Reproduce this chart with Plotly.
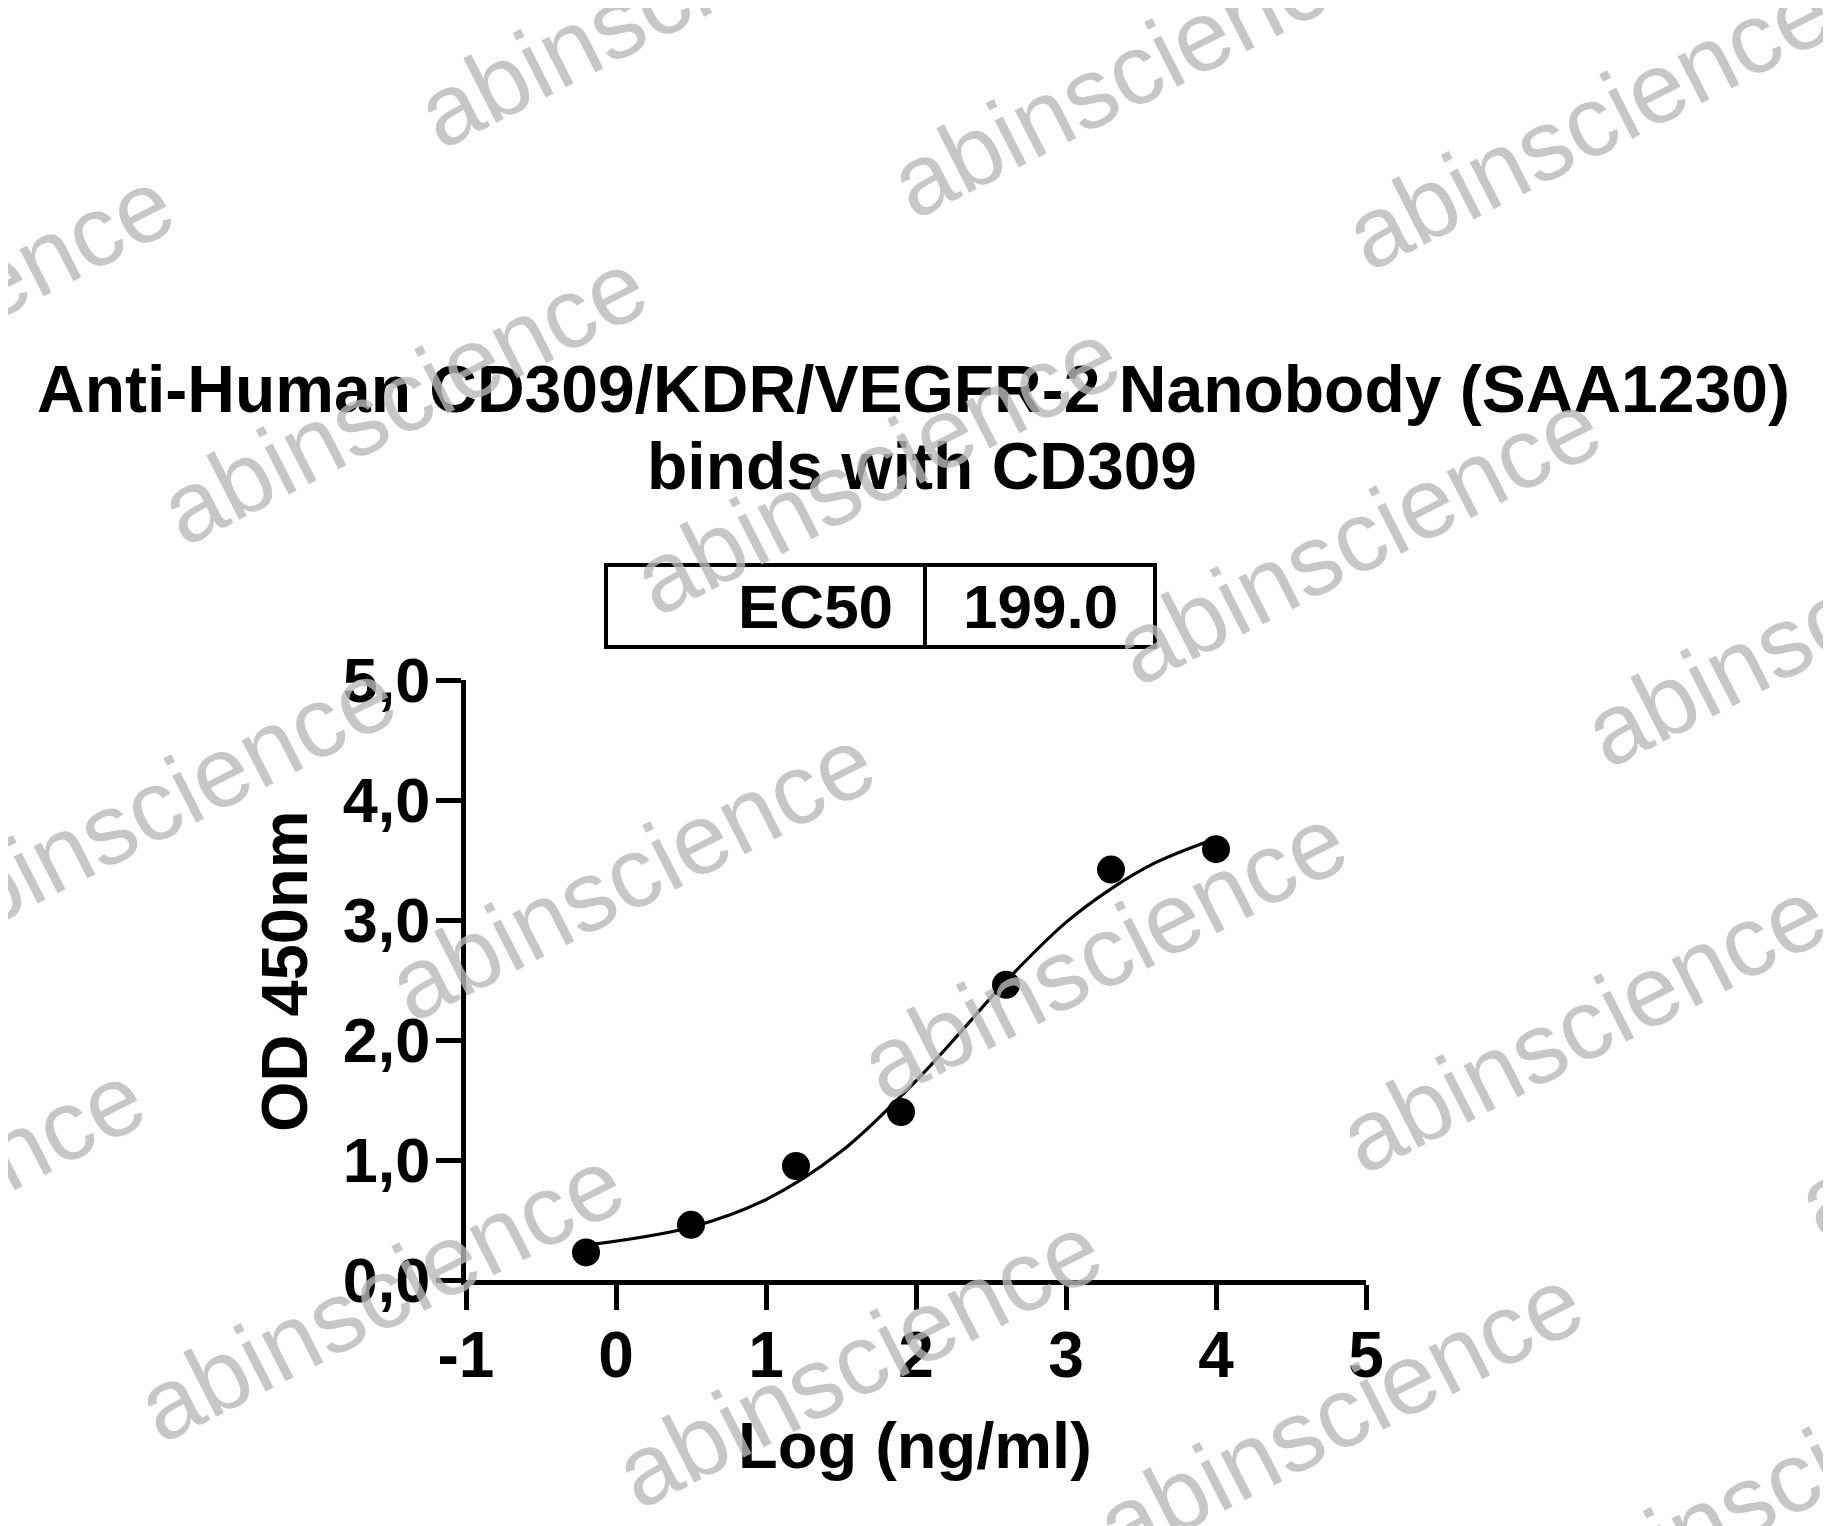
import plotly.graph_objects as go

# ---------------- data ----------------
x_log = [-0.2, 0.5, 1.2, 1.9, 2.6, 3.3, 4.0]
od_450 = [0.23, 0.46, 0.95, 1.40, 2.46, 3.42, 3.59]

fit_x = [-0.2, 0.5, 1.0, 1.5, 2.0, 2.3, 2.6, 3.0, 3.3, 3.6, 4.0]
fit_y = [0.29, 0.44, 0.67, 1.07, 1.66, 2.07, 2.49, 2.98, 3.26, 3.48, 3.68]

x_ticks = [-1, 0, 1, 2, 3, 4, 5]
x_tick_labels = ["-1", "0", "1", "2", "3", "4", "5"]
y_ticks = [0, 1, 2, 3, 4, 5]
y_tick_labels = ["0,0", "1,0", "2,0", "3,0", "4,0", "5,0"]

title_lines = ["Anti-Human CD309/KDR/VEGFR-2 Nanobody (SAA1230)", "binds with CD309"]
ec50_label = "EC50"
ec50_value = "199.0"
watermark = "abinscience"

# ---------------- layout geometry (screen pixels) ----------------
W, H = 1831, 1526
OFF = 8  # page body margin offset
L, R, T, B = 466, 1366, 680, 1280
FONT = "Arial, Liberation Sans, Helvetica, sans-serif"


def px(x):
    return (x - L) / (R - L)


def py(y):
    return (B - y) / (B - T)


fig = go.Figure()
fig.add_trace(go.Scatter(x=fit_x, y=fit_y, mode="lines",
                         line=dict(color="black", width=3.2, shape="spline", smoothing=1.0),
                         hoverinfo="skip", showlegend=False))
fig.add_trace(go.Scatter(x=x_log, y=od_450, mode="markers",
                         marker=dict(color="black", size=28, line=dict(width=0)),
                         showlegend=False))

axis_common = dict(showline=True, linecolor="black", linewidth=5, ticks="outside",
                   ticklen=25, tickwidth=5, tickcolor="black", showgrid=False,
                   zeroline=False)

fig.update_xaxes(range=[-1, 5], tickvals=x_ticks, ticktext=x_tick_labels,
                 ticklabelstandoff=-10,
                 tickfont=dict(family=FONT, size=64, color="black", weight="bold"), **axis_common)
fig.update_yaxes(range=[0, 5], tickvals=y_ticks, ticktext=y_tick_labels,
                 ticklabelstandoff=-7,
                 tickfont=dict(family=FONT, size=63, color="black", weight="bold"), **axis_common)

annotations = []
# title lines
annotations.append(dict(text=title_lines[0], x=px(913), y=py(389), xref="paper", yref="paper",
                        xanchor="center", yanchor="middle", showarrow=False,
                        font=dict(family=FONT, size=66, color="black", weight="bold")))
annotations.append(dict(text=title_lines[1], x=px(922), y=py(466), xref="paper", yref="paper",
                        xanchor="center", yanchor="middle", showarrow=False,
                        font=dict(family=FONT, size=66, color="black", weight="bold")))
# axis titles
annotations.append(dict(text="Log (ng/ml)", x=px(915), y=py(1445), xref="paper", yref="paper",
                        xanchor="center", yanchor="middle", showarrow=False,
                        font=dict(family=FONT, size=65, color="black", weight="bold")))
annotations.append(dict(text="OD 450nm", x=px(284), y=py(971), xref="paper", yref="paper",
                        xanchor="center", yanchor="middle", showarrow=False, textangle=-90,
                        font=dict(family=FONT, size=65, color="black", weight="bold")))
# EC50 table
annotations.append(dict(text=ec50_label, x=px(895), y=py(606), xref="paper", yref="paper",
                        xanchor="right", yanchor="middle", showarrow=False,
                        font=dict(family=FONT, size=62, color="black", weight="bold")))
annotations.append(dict(text=ec50_value, x=px(1040), y=py(606), xref="paper", yref="paper",
                        xanchor="center", yanchor="middle", showarrow=False,
                        font=dict(family=FONT, size=62, color="black", weight="bold")))

# watermarks (centers in screen pixels)
wm_centers = [(660, 0), (1133, 70), (1588, 122), (-70, 315), (403, 397), (876, 467),
              (1357, 537), (1827, 619), (152, 806), (631, 873), (1103, 952), (1582, 1025),
              (-99, 1209), (380, 1294), (858, 1360), (1339, 1413), (2040, 1090), (1790, 1478)]
for cx, cy in wm_centers:
    annotations.append(dict(text=watermark, x=px(cx), y=py(cy), xref="paper", yref="paper",
                            xanchor="center", yanchor="middle", showarrow=False, textangle=-27,
                            font=dict(family=FONT, size=100, color="rgba(185,185,185,0.8)")))

shapes = [
    dict(type="rect", xref="paper", yref="paper", x0=px(606), x1=px(1155), y0=py(565), y1=py(647),
         line=dict(color="black", width=4), fillcolor="rgba(0,0,0,0)", layer="below"),
    dict(type="line", xref="paper", yref="paper", x0=px(925), x1=px(925), y0=py(565), y1=py(647),
         line=dict(color="black", width=4), layer="below"),
]

fig.update_layout(width=W, height=H,
                  margin=dict(l=L - OFF, r=W - (R - OFF), t=T - OFF, b=H - (B - OFF)),
                  paper_bgcolor="white", plot_bgcolor="white",
                  annotations=annotations, shapes=shapes, showlegend=False)

fig.write_html("out.html")
